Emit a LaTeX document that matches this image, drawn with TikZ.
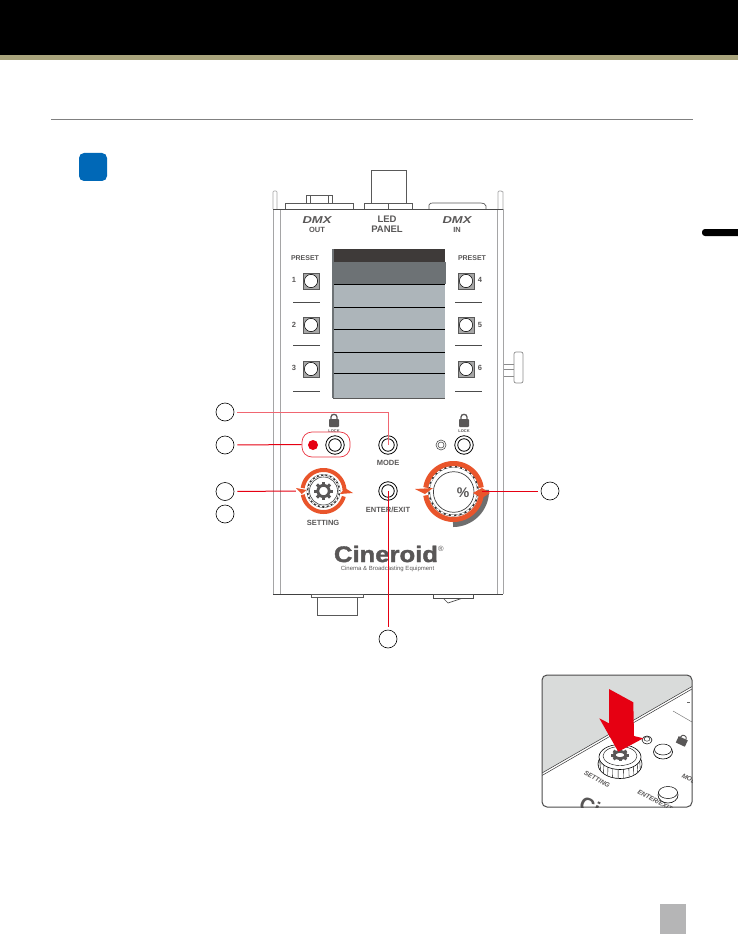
\documentclass[tikz,border=0pt]{standalone}
\usepackage{fontspec}
\usepackage{graphicx}
\setmainfont{Liberation Sans}
\newfontfamily\logofont[FakeBold=1.6]{Liberation Sans Bold}
\usetikzlibrary{calc}
\definecolor{ink}{HTML}{595757}
\definecolor{edge}{HTML}{A5A5A6}
\definecolor{oran}{HTML}{E9552B}
\definecolor{redl}{HTML}{E60012}
\definecolor{rows}{HTML}{ADB5BA}
\definecolor{olive}{HTML}{A9A47C}
\definecolor{bluesq}{HTML}{0068B7}
\definecolor{scrdark}{HTML}{3E3A39}
\definecolor{scrmid}{HTML}{6D7275}
\definecolor{pagebox}{HTML}{B5B5B6}
\definecolor{insetg}{HTML}{D9DBDA}
\definecolor{shad}{HTML}{6E6E6E}
\tikzset{
  x=1pt,y=-1pt,
  callout/.style={circle,draw=black,line width=.6pt,minimum size=18pt,inner sep=0pt},
  lbl/.style={font=\fontsize{#1}{#1}\selectfont\bfseries,text=ink,inner sep=0pt},
  lbl/.default=7.5,
  leader/.style={draw=redl,line width=1pt,shorten <=3pt},
  leaderl/.style={draw=redl!60,line width=.8pt,shorten <=3pt},
  dev/.style={draw=black!65,line width=.7pt,fill=white},
  devg/.style={draw=edge,line width=1pt},
  ring/.style={circle,draw=black,line width=.8pt,fill=white,minimum size=#1,inner sep=0pt},
  sqb/.style={draw=black!65,line width=1pt,fill=black!35,minimum size=16pt,inner sep=0pt},
  knob/.style={circle,minimum size=#1,inner sep=0pt},
}
\newcommand{\dbtn}[2]{\node[ring=18.5pt] (#1) at (#2) {}; \node[ring=12.5pt] at (#2) {};}
\newcommand{\psb}[2]{\node[sqb] (#1) at (#2) {}; \fill[white,draw=black,line width=.5pt] (#2) circle (6.6);}
\newcommand{\lockic}[1]{\fill[ink,rounded corners=.8] ($(#1)+(-5,-2)$) rectangle ($(#1)+(5,6)$);
  \draw[ink,line width=1.3pt] ($(#1)+(-3,-2)$) -- ++(0,-2) .. controls ++(0,-3.5) and ($(#1)+(3,-7.5)$) .. ($(#1)+(3,-4)$) -- ++(0,2);}
\newcommand{\oarc}[6]{\draw[#6] plot[domain=#4:#5,samples=40] ({#1+#3*cos(\x)},{#2-#3*sin(\x)});}
\newcommand{\gearic}[3]{%
  \draw[ink,line width=2.8pt] plot[domain=0:360,samples=40] ({#1+5.6*cos(\x)},{#2-5.6*#3*sin(\x)});
  \foreach \a in {0,45,...,315}{\draw[ink,line width=3pt] ({#1+6*cos(\a)},{#2-6*#3*sin(\a)}) -- ({#1+9.3*cos(\a)},{#2-9.3*#3*sin(\a)});}}
\begin{document}
\begin{tikzpicture}
\useasboundingbox (0,0) rectangle (738,936);
\fill[white] (0,0) rectangle (738,936);
% page furniture
\fill[black] (0,0) rectangle (738,55);
\fill[olive] (0,55) rectangle (738,60);
\draw[black!50,line width=1pt] (51,119.5) -- (693,119.5);
\fill[bluesq,rounded corners=5] (79,153) rectangle (107,181);
\fill[black,rounded corners=3] (702,229) rectangle (745,236);
\fill[pagebox] (660,904) rectangle (686,934);
% connectors at the top of the housing
\draw[dev] (306,195) rectangle (332,203);
\draw[dev] (310,195) -- (310,203) (328,195) -- (328,203);
\draw[dev] (285,209) -- (285,203) -- (353,203) -- (353,209);
\draw[dev] (371,203) -- (371,170) -- (406,170) -- (406,203);
\draw[dev] (364,209) -- (364,203) -- (412,203) -- (412,209);
\draw[dev] (388,203) -- (388,209);
\draw[dev] (429,209) -- (429,205) .. controls (430,203) and (431,203) .. (433,203) -- (481,203) .. controls (484,203) and (485,204) .. (486,206) -- (486,209);
\draw[dev,draw=edge] (273,209) -- (273,192) -- (274,191) -- (276,191) -- (277,192) -- (277,209);
\draw[dev,draw=edge] (498,209) -- (498,192) -- (499,191) -- (501,191) -- (503,192) -- (503,209);
% side knob
\draw[dev,draw=black!45] (503,364) -- (514,364) (503,369.5) -- (514,369.5) (503,376) -- (514,376);
\draw[dev,draw=black!45,rounded corners=2] (514,352) rectangle (523,383);
% housing
\draw[devg] (273,209) -- (273,594) (280,209) -- (280,594) (497,209) -- (497,594) (503,209) -- (503,594);
\draw[black!70,line width=.7pt] (273,209) -- (503,209);
\draw[black!75,line width=.7pt] (273,594) -- (503,594);
% bottom connectors
\draw[dev] (317,597) rectangle (357,615);
\draw[dev] (311,594) rectangle (363,597);
\draw[dev,draw=black!70] (443,598) -- (448,603) -- (463,598);
\draw[dev,draw=black!70] (433,594) rectangle (473,598);
% top labels
\node[lbl=10,font=\fontsize{10}{10}\selectfont\bfseries\itshape] (dmxo) at (317,220) {\scalebox{1.3}[1]{DMX}};
\node[lbl=7.5] (outl) at (317,230) {OUT};
\node[lbl=9.5] (ledl) at (387,219.5) {LED};
\node[lbl=9.5] (panl) at (387,229.5) {PANEL};
\node[lbl=10,font=\fontsize{10}{10}\selectfont\bfseries\itshape] (dmxi) at (457,220) {\scalebox{1.3}[1]{DMX}};
\node[lbl=7.5] (inl) at (457,230) {IN};
\node[lbl=7] (pl) at (305,258) {PRESET};
\node[lbl=7] (pr) at (472,258) {PRESET};
% preset buttons
\psb{p1}{311,281} \psb{p2}{311,325} \psb{p3}{311,369}
\psb{p4}{466,281} \psb{p5}{466,325} \psb{p6}{466,369}
\node[lbl=7.5] (d1) at (294,280) {1};
\node[lbl=7.5] (d2) at (294,325) {2};
\node[lbl=7.5] (d3) at (294,368) {3};
\node[lbl=7.5] (d4) at (480,280) {4};
\node[lbl=7.5] (d5) at (480,325) {5};
\node[lbl=7.5] (d6) at (480,368) {6};
\draw[black!70,line width=.6pt] (293,302) -- (320,302) (293,345) -- (320,345) (293,391) -- (320,391)
  (455,302) -- (482,302) (455,345) -- (482,345) (455,391) -- (482,391);
% display
\fill[rows] (332,249) rectangle (445,398);
\fill[scrmid] (332,262) rectangle (445.5,284);
\fill[scrdark] (332,249) rectangle (445,262);
\draw[black,line width=.7pt] (333,284) -- (445,284) (333,307) -- (445,307) (333,329) -- (445,329) (333,352) -- (445,352) (333,373) -- (445,373);
\draw[black!65,line width=.8pt] (333,398) -- (445,398);
\fill[scrmid] (331.5,249) rectangle (333.5,398);
% lock row
\lockic{334,421}
\node[lbl=4] (lk1) at (334,431) {LOCK};
\node[draw=redl!80,rounded corners=10,line width=.7pt,minimum width=48pt,minimum height=25pt,inner sep=0pt] (lockgrp) at (326,444.5) {};
\fill[redl] (313,445) circle (5);
\dbtn{lockl}{335,445}
\dbtn{mode}{388,445}
\node[lbl=7.5] (model) at (388,463) {MODE};
\dbtn{enter}{388,491}
\node[lbl=7.5] (enterl) at (388,510) {ENTER/EXIT};
\lockic{464,421}
\node[lbl=4] (lk2) at (464,431) {LOCK};
\node[circle,draw=black!70,line width=.6pt,minimum size=10pt,inner sep=0pt] (ledr) at (441,445) {};
\node[circle,draw=black!70,line width=.6pt,minimum size=6pt,inner sep=0pt] (ledri) at (441,445) {};
\dbtn{lockr}{464,445}
% setting knob
\node[knob=54pt] (setk) at (323,491) {};
\draw[black!80,line width=1.6pt] (323.5,491) circle (16);
\draw[white,line width=1.2pt,dash pattern=on 2.4pt off 2pt] (323.5,491) circle (16);
\draw[black!75,line width=.6pt] (323.5,491) circle (14);
\gearic{323.5}{491}{1}
\node[lbl=7.5] (setl) at (323,523) {SETTING};
\oarc{323.5}{491}{21}{2}{172}{oran,line width=4pt}
\oarc{323.5}{491}{21}{190}{345}{oran,line width=4pt}
\fill[oran] (296,488) -- (306.6,490) -- (301.7,494) -- cycle;
\fill[oran] (353,493) -- (345,488) -- (340,494) -- cycle;
% percent knob
\node[knob=58pt] (pctk) at (453,491) {};
\oarc{453}{491}{33}{-90}{2}{shad,line width=6pt}
\fill[white] (453,491) circle (30);
\draw[black!80,line width=1.8pt] (453.5,491) circle (24.5);
\draw[white,line width=1.3pt,dash pattern=on 3.2pt off 2.2pt] (453.5,491) circle (24.5);
\draw[black!75,line width=.7pt,fill=white] (453.7,492) circle (20.3);
\node[lbl=14] (pct) at (463,492.5) {\%};
\oarc{453.5}{491.5}{28}{8}{172}{oran,line width=5pt}
\oarc{453.5}{491.5}{28}{188}{350}{oran,line width=5pt}
\fill[oran] (415,489) -- (433,488) -- (425,494) -- cycle;
\fill[oran] (473,493) -- (482,488) -- (490,493) -- (482,498) -- cycle;
% logo
\node[lbl,font=\fontsize{22.5}{22.5}\logofont\selectfont] (logo) at (386,554) {\scalebox{1.14}[1]{Cineroid}};
\node[lbl,font=\fontsize{7.5}{7.5}\selectfont\mdseries] (regm) at (441,549) {®};
\node[lbl,font=\fontsize{6}{6}\selectfont\mdseries] (logos) at (387.5,568.5) {Cinema \& Broadcasting Equipment};
% callouts
\node[callout] (c1) at (225,412) {};
\node[callout] (c2) at (225,445) {};
\node[callout] (c3) at (225,491.5) {};
\node[callout] (c4) at (225,514) {};
\node[callout] (c5) at (550,491) {};
\node[callout] (c6) at (388,639) {};
% leaders
\draw[leaderl] (c1.east) -| (mode.center);
\draw[leader] (c2.east) -- (lockgrp.west);
\draw[leader] (c3.east) -- (setk.west);
\draw[leader] (c5.west) -- (pctk.east);
\draw[leader] (c6.north) -- (enter.center);
% inset
\begin{scope}
\clip[rounded corners=5] (542,675) rectangle (692,807);
\fill[insetg] (542,675) -- (692,675) -- (692,686.5) -- (542,773) -- cycle;
\draw[black!80,line width=.5pt] (542,773) -- (692,686.5) (542,775.5) -- (692,689);
\draw[black!60,line width=.4pt] (673,711) -- (692,722);
\draw[black!60,line width=.4pt] (687,702) -- (690,702);
% knob body
\draw[black,line width=.6pt,fill=white] (620,764) ellipse (22 and 14.5);
\foreach \a in {190,205,...,350}{\draw[black,line width=.4pt] ({620+21*cos(\a)},{757-12*sin(\a)}) -- ({620+21.5*cos(\a)},{764-14*sin(\a)});}
\draw[black,line width=.6pt,fill=white] (620,757) ellipse (21 and 12.5);
\draw[black,line width=.4pt] (620,756) ellipse (17 and 9.5);
\gearic{620}{755}{.62}
\draw[black,line width=.5pt,fill=white] (647,740) ellipse (5 and 4);
\draw[black,line width=.4pt] (647,739) ellipse (3 and 2.2);
\draw[black,line width=.6pt,fill=white] (663,752) ellipse (9.5 and 7);
\draw[black,line width=.5pt,fill=white] (663,749.5) ellipse (8.5 and 5.5);
\node[lbl=6.5,font=\fontsize{6.5}{6.5}\selectfont\bfseries\itshape,rotate=-28] (inset2) at (655,800) {ENTER/EXIT};
\draw[black,line width=.6pt,fill=white] (668,795) ellipse (10 and 8);
\draw[black,line width=.5pt,fill=white] (668,792.5) ellipse (9.5 and 6);
\fill[ink,rotate around={-25:(682,741)}] (677,738) rectangle (687,745);
\draw[ink,line width=1pt,rotate around={-25:(682,741)}] (679,738) .. controls (679,734) and (685,734) .. (685,738);
\node[lbl=6.5,font=\fontsize{6.5}{6.5}\selectfont\bfseries\itshape,rotate=-28] (inset1) at (597,779) {SETTING};
\node[lbl=6.5,font=\fontsize{6.5}{6.5}\selectfont\bfseries\itshape,rotate=-28] (inset3) at (691,780) {MODE};
\node[lbl=20,rotate=-24] (inset4) at (590,806) {Ci};
\fill[redl] (609,689) -- (633.3,702.3) -- (634,736) -- (643.3,738.3) -- (618.3,751.7) -- (599.3,718.3) -- (609,723.3) -- cycle;
\end{scope}
\draw[black!70,line width=1pt,rounded corners=5] (542,675) rectangle (692,807);
\end{tikzpicture}
\end{document}
